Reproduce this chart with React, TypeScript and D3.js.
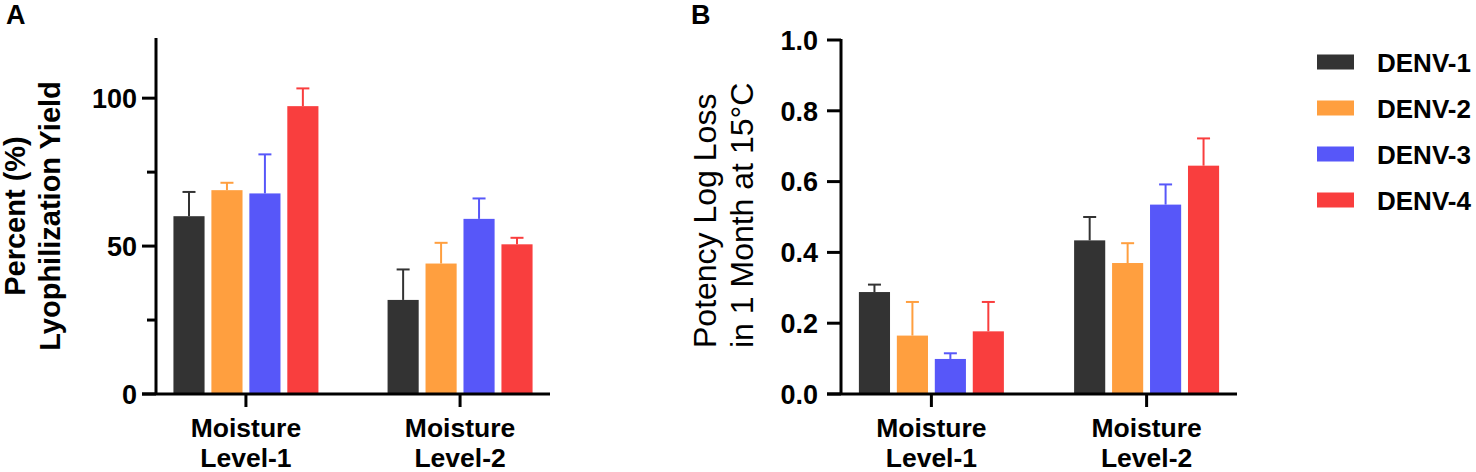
import React from 'react';
import * as d3 from 'd3';

const categories = [['Moisture', 'Level-1'], ['Moisture', 'Level-2']];
const seriesNames = ['DENV-1', 'DENV-2', 'DENV-3', 'DENV-4'];
const seriesColors = ['#333333', '#FF9F3F', '#5757F9', '#F93E3E'];

// panel A: lyophilization yield (%), one value per category
const yieldMean = [
  [60.1, 31.8],
  [68.9, 44.1],
  [67.8, 59.2],
  [97.3, 50.6],
];
const yieldErr = [
  [8.2, 10.3],
  [2.5, 7.0],
  [13.2, 6.9],
  [6.0, 2.2],
];

// panel B: potency log loss after 1 month at 15°C
const lossMean = [
  [0.288, 0.434],
  [0.165, 0.37],
  [0.099, 0.535],
  [0.177, 0.645],
];
const lossErr = [
  [0.021, 0.066],
  [0.095, 0.056],
  [0.016, 0.057],
  [0.083, 0.077],
];

const yieldTicks = [0, 50, 100];
const yieldMinorTicks = [25, 75];
const lossTicks = [0, 0.2, 0.4, 0.6, 0.8, 1.0];

const FONT = '"Liberation Sans", Arial, sans-serif';

interface PanelProps {
  x0: number;
  x1: number;
  yTop: number;
  yBottom: number;
  yMax: number;
  mean: number[][];
  err: number[][];
  ticks: number[];
  minorTicks?: number[];
  tickFormat: (d: number) => string;
  labelGap: number;
}

function Panel({ x0, x1, yTop, yBottom, yMax, mean, err, ticks, minorTicks = [], tickFormat, labelGap }: PanelProps) {
  const x = d3.scalePoint<number>().domain([0, 1]).range([x0, x1]).padding(0.42);
  const inner = d3.scaleBand<number>().domain([0, 1, 2, 3]).range([-72.5, 72.5]).paddingInner(0.18);
  const y = d3.scaleLinear().domain([0, yMax]).range([yBottom, yTop]);
  const bw = inner.bandwidth();

  return (
    <g>
      {seriesNames.map((_, si) =>
        mean[si].map((v, ci) => {
          const bx = (x(ci) ?? 0) + (inner(si) ?? 0);
          const cx = bx + bw / 2;
          const top = y(v + err[si][ci]);
          return (
            <g key={`${si}-${ci}`}>
              <rect x={bx} y={y(v)} width={bw} height={y(0) - y(v)} fill={seriesColors[si]} />
              <line x1={cx} x2={cx} y1={y(v)} y2={top} stroke={seriesColors[si]} strokeWidth={2} />
              <line x1={cx - 6.5} x2={cx + 6.5} y1={top} y2={top} stroke={seriesColors[si]} strokeWidth={2} />
            </g>
          );
        })
      )}
      {/* y axis */}
      <line x1={x0} x2={x0} y1={yTop - 1} y2={yBottom} stroke="#000" strokeWidth={3} />
      {ticks.map(t => (
        <g key={t}>
          <line x1={x0 - 14} x2={x0} y1={y(t)} y2={y(t)} stroke="#000" strokeWidth={3} />
          <text
            x={x0 - labelGap}
            y={y(t)}
            dy="0.36em"
            textAnchor="end"
            fontFamily={FONT}
            fontWeight="bold"
            fontSize={27}
          >
            {tickFormat(t)}
          </text>
        </g>
      ))}
      {minorTicks.map(t => (
        <line key={t} x1={x0 - 9} x2={x0} y1={y(t)} y2={y(t)} stroke="#000" strokeWidth={3} />
      ))}
      {/* x axis */}
      <line x1={x0 - 14} x2={x1} y1={yBottom} y2={yBottom} stroke="#000" strokeWidth={3} />
      {categories.map((lines, ci) => (
        <g key={ci}>
          <line x1={x(ci)} x2={x(ci)} y1={yBottom} y2={yBottom + 13} stroke="#000" strokeWidth={3} />
          {lines.map((l, li) => (
            <text
              key={li}
              x={x(ci)}
              y={437 + li * 30}
              textAnchor="middle"
              fontFamily={FONT}
              fontWeight="bold"
              fontSize={26.5}
            >
              {l}
            </text>
          ))}
        </g>
      ))}
    </g>
  );
}

export default function App() {
  return (
    <svg
      width={1476}
      height={472}
      viewBox="0 0 1476 472"
      style={{ position: 'absolute', left: 0, top: 0, background: '#fff' }}
    >
      <rect width={1476} height={472} fill="#fff" />
      <text x={6} y={24} fontFamily={FONT} fontWeight="bold" fontSize={27}>A</text>
      <text x={691} y={24} fontFamily={FONT} fontWeight="bold" fontSize={27}>B</text>

      {/* panel A title */}
      <text transform="translate(25,216) rotate(-90)" textAnchor="middle" fontFamily={FONT} fontWeight="bold" fontSize={29}>
        Percent (%)
      </text>
      <text transform="translate(60,216) rotate(-90)" textAnchor="middle" fontFamily={FONT} fontWeight="bold" fontSize={29}>
        Lyophilization Yield
      </text>

      <Panel
        x0={156}
        x1={550}
        yTop={39}
        yBottom={394}
        yMax={120}
        mean={yieldMean}
        err={yieldErr}
        ticks={yieldTicks}
        minorTicks={yieldMinorTicks}
        tickFormat={d => String(d)}
        labelGap={19}
      />

      {/* panel B title */}
      <text transform="translate(716,348) rotate(-90)" textAnchor="start" fontFamily={FONT} fontSize={32}>
        Potency Log Loss
      </text>
      <text transform="translate(753,348) rotate(-90)" textAnchor="start" fontFamily={FONT} fontSize={32}>
        in 1 Month at 15°C
      </text>

      <Panel
        x0={841}
        x1={1237}
        yTop={40}
        yBottom={394}
        yMax={1}
        mean={lossMean}
        err={lossErr}
        ticks={lossTicks}
        tickFormat={d => d.toFixed(1)}
        labelGap={23}
      />

      {/* legend */}
      {seriesNames.map((name, i) => {
        const cy = 62 + i * 46;
        return (
          <g key={name}>
            <rect x={1317} y={cy - 7.5} width={37} height={15} fill={seriesColors[i]} />
            <text x={1377} y={cy + 9.5} fontFamily={FONT} fontWeight="bold" fontSize={26}>
              {name}
            </text>
          </g>
        );
      })}
    </svg>
  );
}
